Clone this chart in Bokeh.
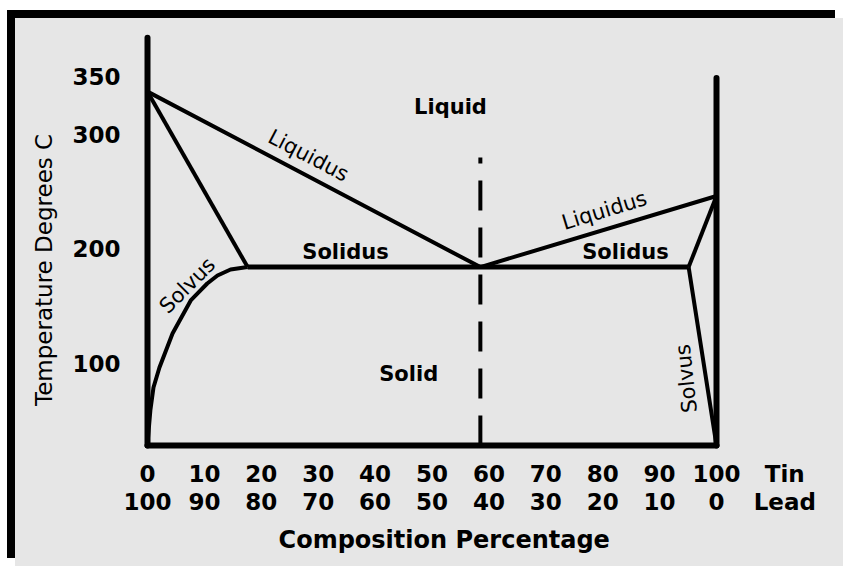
import math
from bokeh.plotting import figure
from bokeh.models import Range1d, LinearAxis, FixedTicker, ColumnDataSource
from bokeh.core.properties import value
from bokeh.embed import file_html
from bokeh.resources import INLINE

# ---- data ----
tin_ticks = [0, 10, 20, 30, 40, 50, 60, 70, 80, 90, 100]
tin_labels = ["0", "10", "20", "30", "40", "50", "60", "70", "80", "90", "100"]
lead_labels = ["100", "90", "80", "70", "60", "50", "40", "30", "20", "10", "0"]
name_tick = 112
temp_ticks = [100, 200, 300, 350]

left_axis_x = [0, 0]
left_axis_y = [384, 28.5]
right_axis_x = [100, 100]
right_axis_y = [349, 28.5]
base_x = [0, 100]
base_y = [28.5, 28.5]

liquidus_x = [0, 58.5, 100]
liquidus_y = [337, 184, 246]
solidus_left_x = [0, 17.6]
solidus_left_y = [337, 184]
solidus_x = [17.6, 95.1]
solidus_y = [184, 184]
solidus_right_x = [95.1, 100]
solidus_right_y = [184, 246]
solvus_right_x = [95.1, 100]
solvus_right_y = [184, 28.5]
solvus_left_x = [17.6, 14.6, 12.3, 10.5, 8.8, 7.6, 4.4, 2.1, 1.05, 0.5, 0.2, 0.0]
solvus_left_y = [184, 181.9, 176.7, 169.7, 161.0, 154.9, 126.1, 96.5, 79.0, 58.9, 41.5, 30]
eutectic_x = [58.5, 58.5]
eutectic_y = [28.5, 279.6]

bold_labels = ["Liquid", "Solidus", "Solidus", "Solid"]
bold_x = [53.25, 34.8, 84.0, 45.9]
bold_y = [324.0, 197.6, 197.6, 90.4]

rot_labels = ["Liquidus", "Liquidus", "Solvus", "Solvus"]
rot_x = [28.3, 80.3, 7.0, 94.7]
rot_y = [281.3, 233.4, 168.0, 86.9]
rot_deg = [-27.6, 17.0, 45.0, 96.0]

FONT = "DejaVu Sans"
BG = "#e6e6e6"
NB = "\u00a0"

p = figure(width=820, height=540,
           x_range=Range1d(-3.339, 122.32), y_range=Range1d(19.72, 400.78),
           output_backend="svg", toolbar_location=None,
           min_border_left=113, min_border_right=0, min_border_top=0,
           min_border_bottom=111,
           background_fill_color=BG, border_fill_color=BG,
           outline_line_color=None)
p.styles = {"border-left": "8px solid black", "border-top": "8px solid black",
            "margin-top": "10px", "margin-left": "7px",
            "box-sizing": "content-box", "overflow": "visible",
            "background-color": BG,
            "box-shadow": "8px 8px 0 0 " + BG}
p.grid.visible = False

# y axis
ya = p.yaxis[0]
ya.ticker = FixedTicker(ticks=temp_ticks)
ya.axis_line_color = None
ya.major_tick_line_color = None
ya.minor_tick_line_color = None
ya.major_tick_in = 0
ya.major_tick_out = 0
ya.major_label_text_font = FONT
ya.major_label_text_font_style = "bold"
ya.major_label_text_font_size = "23px"
ya.major_label_text_color = "black"
ya.major_label_standoff = 8
ya.axis_label = "Temperature Degrees C" + NB * 9
ya.axis_label_text_font = FONT
ya.axis_label_text_font_style = "normal"
ya.axis_label_text_font_size = "23px"
ya.axis_label_text_color = "black"
ya.axis_label_standoff = 12

def style_x(ax, standoff):
    ax.axis_line_color = None
    ax.major_tick_line_color = None
    ax.minor_tick_line_color = None
    ax.major_tick_in = 0
    ax.major_tick_out = 0
    ax.major_label_text_font = FONT
    ax.major_label_text_font_style = "bold"
    ax.major_label_text_font_size = "23px"
    ax.major_label_text_color = "black"
    ax.major_label_standoff = standoff

xa = p.xaxis[0]
xa.ticker = FixedTicker(ticks=tin_ticks + [name_tick])
ov1 = {t: l for t, l in zip(tin_ticks, tin_labels)}
ov1[name_tick] = "Tin"
xa.major_label_overrides = ov1
style_x(xa, 5)

xb = LinearAxis(ticker=FixedTicker(ticks=tin_ticks + [name_tick]))
ov2 = {t: l for t, l in zip(tin_ticks, lead_labels)}
ov2[name_tick] = "Lead"
xb.major_label_overrides = ov2
style_x(xb, -1)
xb.axis_label = "Composition Percentage" + NB * 10
xb.axis_label_text_font = FONT
xb.axis_label_text_font_style = "bold"
xb.axis_label_text_font_size = "24px"
xb.axis_label_text_color = "black"
xb.axis_label_standoff = 8
p.add_layout(xb, "below")

# phase diagram lines
p.line(left_axis_x, left_axis_y, line_width=6, color="black", line_cap="round")
p.line(right_axis_x, right_axis_y, line_width=6, color="black", line_cap="round")
p.line(base_x, base_y, line_width=6, color="black", line_cap="round")
p.line(liquidus_x, liquidus_y, line_width=4, color="black", line_join="round")
p.line(solidus_left_x, solidus_left_y, line_width=4, color="black")
p.line(solidus_x, solidus_y, line_width=5, color="black")
p.line(solidus_right_x, solidus_right_y, line_width=4, color="black")
p.line(solvus_right_x, solvus_right_y, line_width=4, color="black")
p.line(solvus_left_x, solvus_left_y, line_width=4, color="black", line_join="round")
p.line(eutectic_x, eutectic_y, line_width=4, color="black", line_dash="30 17")

# region / line labels
p.text(x=bold_x, y=bold_y, text=bold_labels, text_font=value(FONT),
       text_font_style="bold", text_font_size="21px", text_color="black",
       text_align="center", text_baseline="middle")
src = ColumnDataSource(dict(x=rot_x, y=rot_y, t=rot_labels,
                            a=[math.radians(d) for d in rot_deg]))
p.text(x="x", y="y", text="t", angle="a", source=src, text_font=value(FONT),
       text_font_style="normal", text_font_size="21px", text_color="black",
       text_align="center", text_baseline="middle")

open("out.html", "w").write(file_html(p, INLINE))
